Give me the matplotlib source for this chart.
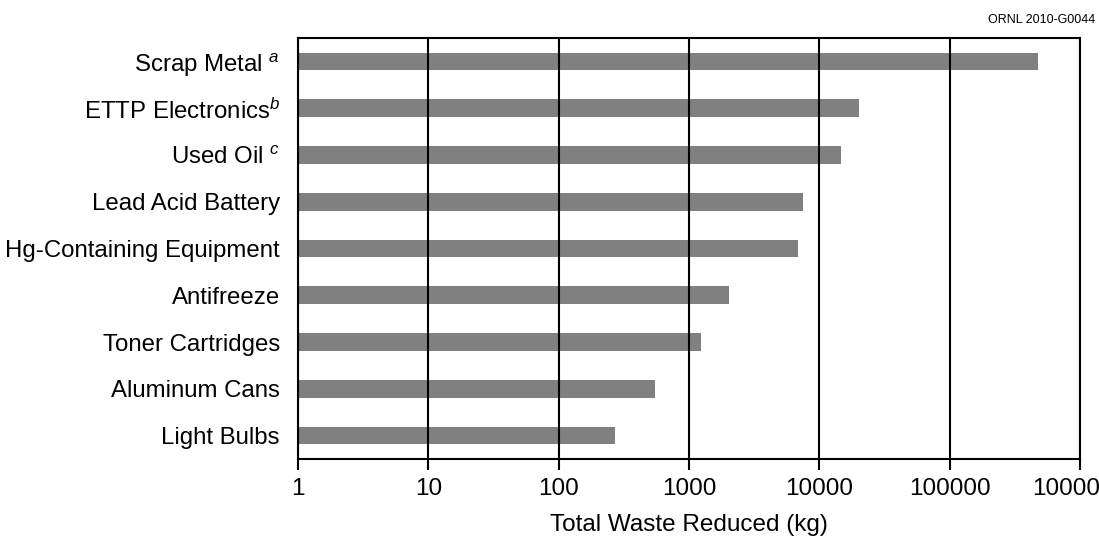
import matplotlib
matplotlib.use('Agg')
import matplotlib.pyplot as plt

plt.rcParams['font.family'] = ['Liberation Sans', 'DejaVu Sans']
plt.rcParams['mathtext.fontset'] = 'custom'
plt.rcParams['mathtext.it'] = 'Liberation Sans:italic'
plt.rcParams['mathtext.rm'] = 'Liberation Sans'

# categories listed bottom to top
categories = ['Light Bulbs', 'Aluminum Cans', 'Toner Cartridges', 'Antifreeze',
              'Hg-Containing Equipment', 'Lead Acid Battery',
              'Used Oil $^{c}$', 'ETTP Electronics$^{b}$', 'Scrap Metal $^{a}$']
waste_kg = [268, 544, 1225, 2040, 6900, 7540, 14750, 20300, 478000]
tick_vals = [1, 10, 100, 1000, 10000, 100000, 1000000]
tick_labels = ['1', '10', '100', '1000', '10000', '100000', '1000000']

fig = plt.figure(figsize=(10.99, 5.36), dpi=100)
ax = fig.add_axes([0.2712, 0.1437, 0.9827 - 0.2712, 0.929 - 0.1437])

ax.barh(range(len(categories)), waste_kg, height=0.38, left=1,
        color='#808080', zorder=1)
ax.set_xscale('log')
ax.set_xlim(1, 1000000)
ax.set_ylim(-0.5, len(categories) - 0.5)

ax.set_xticks(tick_vals)
ax.set_xticklabels(tick_labels, fontsize=17.5)
ax.minorticks_off()
ax.tick_params(axis='x', direction='out', length=8, width=1.5, pad=6)
ax.set_yticks(range(len(categories)))
ax.set_yticklabels(categories, fontsize=17.3)
ax.tick_params(axis='y', length=0, pad=13)

ax.grid(True, axis='x', color='black', linewidth=1.5, zorder=2)
ax.set_axisbelow(False)
for s in ax.spines.values():
    s.set_linewidth(1.5)
    s.set_zorder(3)

ax.set_xlabel('Total Waste Reduced (kg)', fontsize=17.5, labelpad=10)
fig.text(0.997, 0.962, 'ORNL 2010-G0044', fontsize=9, ha='right', va='center')

plt.savefig('out.png', dpi=100)
